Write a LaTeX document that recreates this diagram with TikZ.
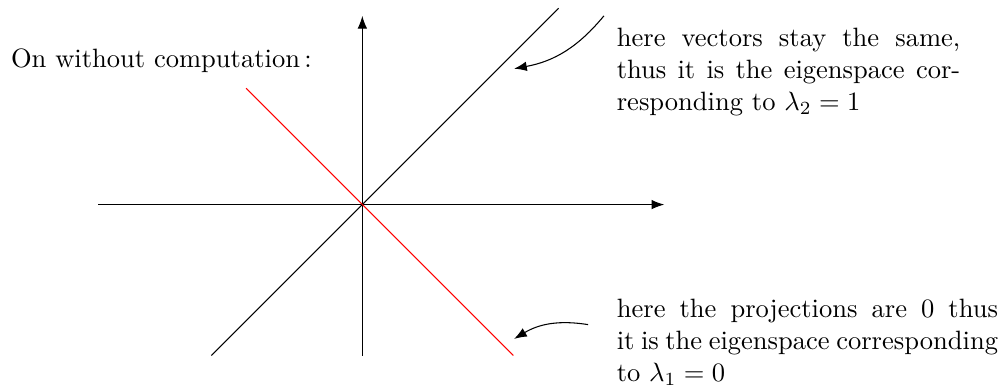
\documentclass[tikz,border=0pt]{standalone}
\usetikzlibrary{arrows.meta, positioning}
\usepackage{amsmath}

\begin{document}
\begin{tikzpicture}[
    remark/.style={anchor=north west, inner sep=0pt, align=justify},
    pointer/.style={-Latex}
  ]
  % same frame as the reference
  \useasboundingbox (-4.80, -2.39) rectangle (8.50, 2.71);

  % axes
  \coordinate (xmin) at (-3.5, 0);
  \coordinate (xmax) at (4, 0);
  \coordinate (ymin) at (0, -2);
  \coordinate (ymax) at (0, 2.5);
  \draw[pointer] (xmin) -- (xmax);
  \draw[pointer] (ymin) -- (ymax);

  % eigenspaces: y = x (black) and y = -x (red)
  \coordinate (diagA) at (-2, -2);
  \coordinate (diagB) at (2.6, 2.6);
  \coordinate (antiA) at (-1.54, 1.54);
  \coordinate (antiB) at (2, -2);
  \draw (diagA) -- (diagB);
  \draw[red] (antiA) -- (antiB);

  % title
  \node[anchor=base west, inner sep=0pt] (title) at (-4.66, 1.82) {On without computation\,:};

  % remarks
  \node[remark, text width=4.55cm] (keep) at (3.364, 2.345)
    {here vectors stay the same, thus it is the eigenspace corresponding to $\lambda_2 = 1$};
  \node[remark, text width=5.05cm] (kill) at (3.364, -1.245)
    {here the projections are 0 thus it is the eigenspace corresponding to $\lambda_1 = 0$};

  % pointers to the lines
  \coordinate (keepfrom) at (3.2, 2.5);
  \coordinate (keepto) at (2.01, 1.80);
  \coordinate (killfrom) at (2.99, -1.59);
  \coordinate (killto) at (2.01, -1.78);
  \draw[pointer] (keepfrom) to[bend left=20] (keepto);
  \draw[pointer] (killfrom) to[bend right=20] (killto);
\end{tikzpicture}
\end{document}
